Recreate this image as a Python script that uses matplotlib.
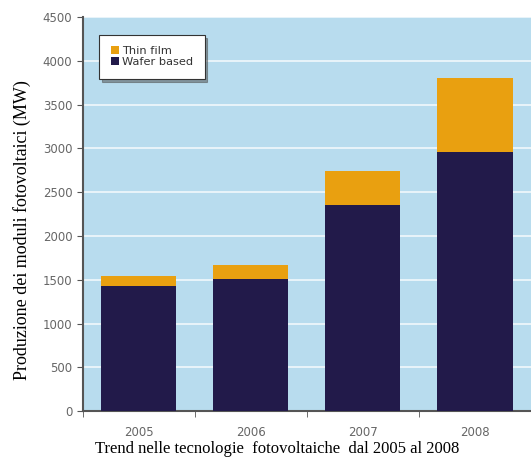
import numpy as np
import matplotlib
matplotlib.use("Agg")
import matplotlib.pyplot as plt
from matplotlib.patches import Patch

# Data
years = ["2005", "2006", "2007", "2008"]
wafer_based = [1430, 1505, 2355, 2960]
thin_film = [110, 165, 385, 850]

navy = "#221a4a"
orange = "#e9a010"
bg = "#b8dcee"

fig = plt.figure(figsize=(5.31, 4.63), dpi=100)
ax = fig.add_axes([0.156, 0.112, 0.844, 0.851])
ax.set_facecolor(bg)

x = np.arange(len(years))
ax.bar(x, wafer_based, width=0.67, color=navy, zorder=3)
ax.bar(x, thin_film, width=0.67, bottom=wafer_based, color=orange, zorder=3)

ax.set_xlim(-0.5, 3.5)
ax.set_ylim(0, 4500)
ax.set_yticks(np.arange(0, 4501, 500))
ax.grid(axis="y", color="white", linewidth=1.2, alpha=0.8, zorder=1)

# category labels centered, tick marks between categories
ax.set_xticks(x)
ax.set_xticklabels(years)
ax.set_xticks(np.arange(-0.5, 4, 1), minor=True)
ax.tick_params(axis="x", which="major", length=0, pad=11, labelsize=8.5, labelcolor="#666666")
ax.tick_params(axis="x", which="minor", length=4, color="#555555")
ax.tick_params(axis="y", length=4, color="#555555", labelsize=8.5, labelcolor="#666666")

for s in ["top", "right"]:
    ax.spines[s].set_visible(False)
for s in ["left", "bottom"]:
    ax.spines[s].set_color("#555555")
    ax.spines[s].set_linewidth(1.5)

handles = [Patch(facecolor=orange, label="Thin film"),
           Patch(facecolor=navy, label="Wafer based")]
leg = ax.legend(handles=handles, loc="upper left", bbox_to_anchor=(0.037, 0.955),
                fontsize=8.2, frameon=True, fancybox=False, shadow=True,
                handlelength=0.7, handleheight=0.7, handletextpad=0.3,
                borderpad=1.0, labelspacing=0.1, borderaxespad=0)
leg.get_frame().set_edgecolor("#333333")
leg.get_frame().set_linewidth(0.8)
for t in leg.get_texts():
    t.set_color("#333333")

fig.text(0.041, 0.503, "Produzione dei moduli fotovoltaici (MW)", rotation=90,
         ha="center", va="center", family="Liberation Serif", fontsize=13)
fig.text(0.522, 0.03, "Trend nelle tecnologie  fotovoltaiche  dal 2005 al 2008",
         ha="center", va="center", family="Liberation Serif", fontsize=12)

fig.savefig("out.png", dpi=100)
